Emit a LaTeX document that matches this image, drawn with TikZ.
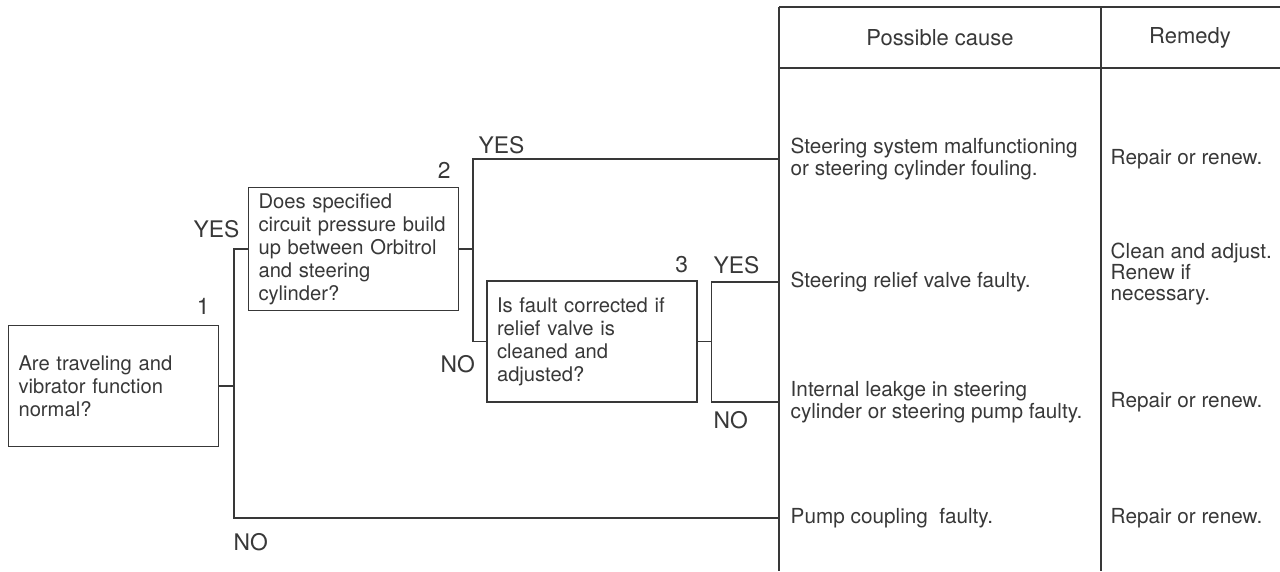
\documentclass[tikz,border=0pt]{standalone}
\usepackage{fontspec}
\setmainfont{TeX Gyre Heros}
\usetikzlibrary{calc}

\definecolor{ink}{gray}{0.22}

\begin{document}
\begin{tikzpicture}[x=0.02cm,y=-0.02cm,line width=0.8pt,color=ink,
	question/.style={draw,rectangle,text width=3.8cm,inner xsep=0.2cm,minimum height=2.42cm,align=left,font=\fontsize{11.5}{13.1}\selectfont},
	num/.style={anchor=base east,inner sep=0,font=\fontsize{13}{15}\selectfont},
	answer/.style={anchor=base west,inner sep=0,font=\fontsize{13}{15}\selectfont},
	head/.style={font=\fontsize{12.5}{15}\selectfont},
	cause/.style={anchor=west,align=left,inner xsep=0.22cm,inner ysep=0,font=\fontsize{11.8}{12.2}\selectfont},
	remedy/.style={cause,inner xsep=0.18cm}]
	\useasboundingbox (0,0) rectangle (1280,571);

	\draw (779,7) -- (1280,7) (779,68) -- (1280,68) (779,7) -- (779,571) (1101,7) -- (1101,571);
	\node[head] (h1) at (940,38) {Possible cause};
	\node[head] (h2) at (1190,38) {Remedy};

	\node[question] (q1) at (113.5,386) {Are traveling and\\vibrator function\\normal?};
	\node[question] (q2) at (353.5,249) {Does specified\\circuit pressure build\\up between Orbitrol\\and steering\\cylinder?};
	\node[question] (q3) at (592,341.5) {Is fault corrected if\\relief valve is\\cleaned and\\adjusted?};
	\node[num] (num1) at ($(q1.north east)+(-9,-10)$) {1};
	\node[num] (num2) at ($(q2.north east)+(-8,-8)$) {2};
	\node[num] (num3) at ($(q3.north east)+(-9,-8)$) {3};

	\node[cause] (c1) at (779,159) {Steering system malfunctioning\\or steering cylinder fouling.};
	\node[cause] (c2) at (779,282) {Steering relief valve faulty.};
	\node[cause] (c3) at (779,402) {Internal leakge in steering\\cylinder or steering pump faulty.};
	\node[cause] (c4) at (779,518) {Pump coupling\ \ faulty.};
	\node[remedy] (r1) at (1101,159) {Repair or renew.};
	\node[remedy] (r2) at (1101,274) {Clean and adjust.\\Renew if\\necessary.};
	\node[remedy] (r3) at (1101,402) {Repair or renew.};
	\node[remedy] (r4) at (1101,518) {Repair or renew.};

	\draw (q1.east) -- ++(15,0) coordinate (j1);
	\draw (j1) |- (q2.west);
	\draw (j1) |- (c4.west);
	\draw (q2.east) -- ++(14,0) coordinate (j2);
	\draw (j2) |- (c1.west);
	\draw (j2) |- (q3.west);
	\draw (q3.east) -- ++(14,0) coordinate (j3);
	\draw (j3) |- (c2.west);
	\draw (j3) |- (c3.west);

	\node[answer] (yes1) at (193,237) {YES};
	\node[answer] (no1) at (233,550) {NO};
	\node[answer] (yes2) at (478,153) {YES};
	\node[answer] (no2) at (440,372) {NO};
	\node[answer] (yes3) at (713,273) {YES};
	\node[answer] (no3) at (713,428) {NO};
\end{tikzpicture}
\end{document}
